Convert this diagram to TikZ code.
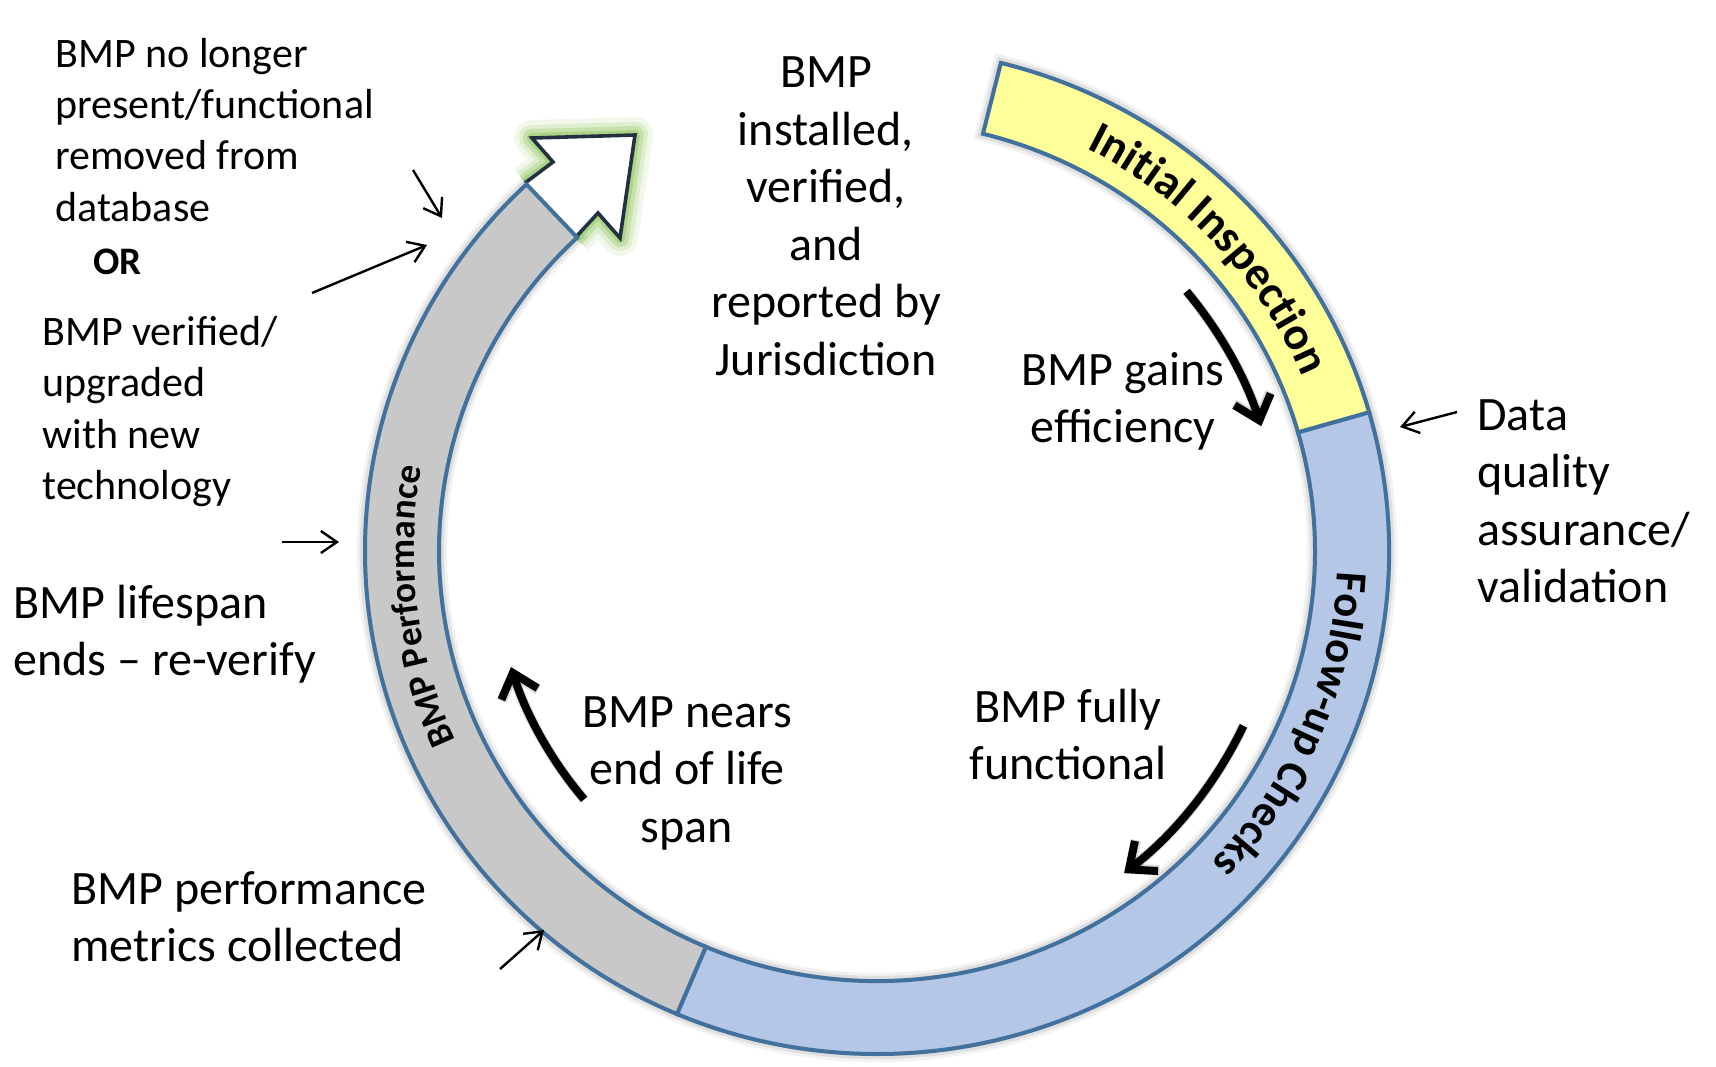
\documentclass[tikz,border=0pt]{standalone}
\usepackage{fontspec}
\setmainfont{Carlito}
\usetikzlibrary{arrows.meta,decorations.text,calc}
\definecolor{ringline}{RGB}{65,113,156}
\definecolor{ringyel}{RGB}{255,255,153}
\definecolor{ringblue}{RGB}{180,199,231}
\definecolor{ringgray}{RGB}{200,200,200}
\definecolor{headline}{RGB}{35,48,66}
\definecolor{glowgreen}{RGB}{146,198,96}
\newcommand{\mlines}[2]{\begin{tabular}[t]{@{}#1@{}}#2\end{tabular}}
\begin{document}
\begin{tikzpicture}[x=0.5pt,y=-0.5pt,
  big/.style={font=\fontsize{24}{28.75}\selectfont, inner sep=0pt},
  small/.style={font=\fontsize{21}{25.7}\selectfont, inner sep=0pt},
  seg/.style={draw=ringline, line width=2pt},
  thinarrow/.style={line width=1.2pt, -{Straight Barb[length=8pt,width=11pt]}},
  bigarrow/.style={line width=4pt, -{Straight Barb[length=11pt,width=19pt]}},
  bigshadow/.style={line width=5pt, draw=black, opacity=0.15, -{Straight Barb[length=11pt,width=19pt]}},
]
\fill[white] (0,0) rectangle (1716,1066);
\useasboundingbox (0,0) rectangle (1716,1066);
\coordinate (c) at (877,551);

% ring shadow
\foreach \d/\o in {8/0.05,5/0.08,2/0.10}{
\path[fill=black, fill opacity=\o, draw=black, draw opacity=\o, line width=\d pt, shift={(3,6)}]
  (c) ++(-76:512 and 503) arc[start angle=-76, end angle=226.8, x radius=512, y radius=503]
  -- ($(c)+(226.8:438 and 430)$) arc[start angle=226.8, end angle=-76, x radius=438, y radius=430] -- cycle;
}

% arrow head with glow
\foreach \w/\o in {18/0.12,13/0.2,9/0.3,5/0.5}{
\draw[glowgreen, opacity=\o, line width=\w pt, line join=round]
  (525,183) -- (553,162) -- (532,138) -- (635,135) -- (620,238) -- (598,213) -- (575,238);
}
\filldraw[fill=white, draw=headline, line width=1.8pt]
  (525,183) -- (553,162) -- (532,138) -- (635,135) -- (620,238) -- (598,213) -- (575,238);

% ring segments
\filldraw[seg, fill=ringyel]
  (c) ++(-76:512 and 503) arc[start angle=-76, end angle=-16, x radius=512, y radius=503]
  -- ($(c)+(-16:438 and 430)$) arc[start angle=-16, end angle=-76, x radius=438, y radius=430] -- cycle;
\filldraw[seg, fill=ringblue]
  (c) ++(-16:512 and 503) arc[start angle=-16, end angle=113, x radius=512, y radius=503]
  -- ($(c)+(113:438 and 430)$) arc[start angle=113, end angle=-16, x radius=438, y radius=430] -- cycle;
\filldraw[seg, fill=ringgray]
  (c) ++(113:512 and 503) arc[start angle=113, end angle=226.8, x radius=512, y radius=503]
  -- ($(c)+(226.8:438 and 430)$) arc[start angle=226.8, end angle=113, x radius=438, y radius=430] -- cycle;

% ring texts
\path[decorate, decoration={text along path, text align=center,
  text={|\fontsize{23.2}{28}\selectfont\bfseries|Initial Inspection}}]
  (c) ++(-69:460.5 and 452) arc[start angle=-69, end angle=-16.5, x radius=460.5, y radius=452];
\path[decorate, decoration={text along path, text align=center,
  text={|\fontsize{22.3}{28}\selectfont\bfseries|Follow-up Checks}}]
  (c) ++(-4:461 and 452.5) arc[start angle=-4, end angle=50, x radius=461, y radius=452.5];
\path[decorate, decoration={text along path, text align=center,
  text={|\fontsize{18.5}{22}\selectfont\bfseries|BMP Performance}}]
  (c) ++(150:463 and 454.5) arc[start angle=150, end angle=196, x radius=463, y radius=454.5];

% thick curved arrows
\draw[bigshadow, shift={(3,5)}] (c) ++(-40:404) arc[start angle=-40, end angle=-18, radius=404];
\draw[bigarrow] (c) ++(-40:404) arc[start angle=-40, end angle=-18, radius=404];
\draw[bigshadow, shift={(3,5)}] (c) ++(25.5:406) arc[start angle=25.5, end angle=52.5, radius=406];
\draw[bigarrow] (c) ++(25.5:406) arc[start angle=25.5, end angle=52.5, radius=406];
\draw[bigshadow, shift={(3,5)}] (c) ++(139.7:384) arc[start angle=139.7, end angle=162.4, radius=384];
\draw[bigarrow] (c) ++(139.7:384) arc[start angle=139.7, end angle=162.4, radius=384];

% labels
\node[big, anchor=base] (inst) at (826,87.5) {\mlines{c}{BMP\\installed,\\verified,\\and\\reported by\\Jurisdiction}};
\node[big, anchor=base] (gains) at (1123,385) {\mlines{c}{BMP gains\\efficiency}};
\node[big, anchor=base west] (dq) at (1477,430) {\mlines{l}{Data\\quality\\assurance/\\validation}};
\node[big, anchor=base] (fully) at (1068,722) {\mlines{c}{BMP fully\\functional}};
\node[big, anchor=base] (nears) at (687,727) {\mlines{c}{BMP nears\\end of life\\span}};
\node[big, anchor=base west] (metrics) at (71,904) {\mlines{l}{BMP performance\\metrics collected}};
\node[big, anchor=base west] (life) at (13,618) {\mlines{l}{BMP lifespan\\ends -- re-verify}};
\node[small, anchor=base west] (removed) at (55,67) {\mlines{l}{BMP no longer\\present/functional\\removed from\\database}};
\node[anchor=base west, inner sep=0pt, font=\fontsize{19.5}{24}\selectfont\bfseries] (or) at (93,274) {OR};
\node[small, anchor=base west] (upg) at (42,345.5) {\mlines{l}{BMP verified/\\upgraded\\with new\\technology}};

% thin arrows
\coordinate (a1) at (413,170); \coordinate (a2) at (442,218);
\coordinate (b1) at (312,293); \coordinate (b2) at (427,245);
\coordinate (c1) at (282,542); \coordinate (c2) at (339,542);
\coordinate (d1) at (500,969); \coordinate (d2) at (544,930);
\coordinate (e1) at (1457,412); \coordinate (e2) at (1400,427);
\draw[thinarrow] (a1) -- (a2);
\draw[thinarrow] (b1) -- (b2);
\draw[thinarrow] (c1) -- (c2);
\draw[thinarrow] (d1) -- (d2);
\draw[thinarrow] (e1) -- (e2);
\end{tikzpicture}
\end{document}
